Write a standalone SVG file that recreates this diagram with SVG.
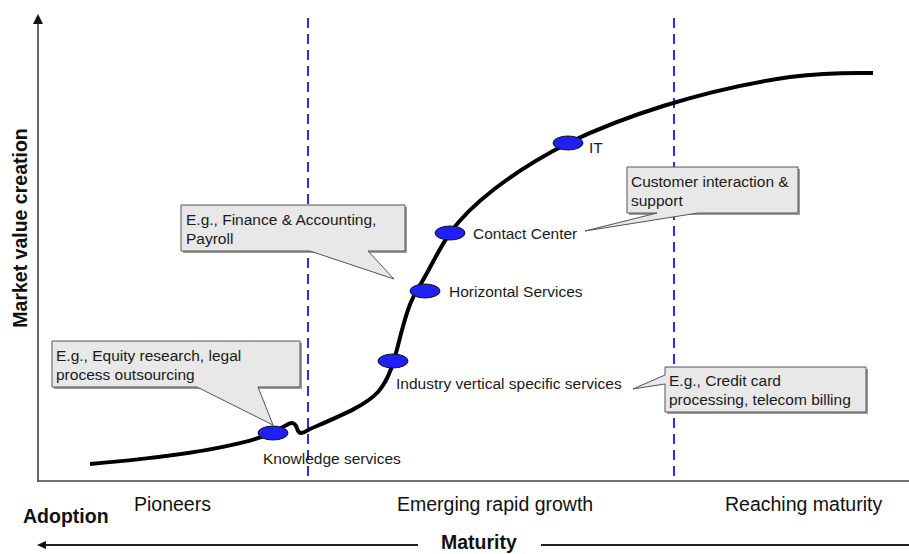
<svg xmlns="http://www.w3.org/2000/svg" width="909" height="554" viewBox="0 0 909 554">
<style>
  .lbl{font-family:"Liberation Sans",Arial,sans-serif;font-size:15.5px;fill:#1a1a1a}
  .big{font-family:"Liberation Sans",Arial,sans-serif;font-size:19.5px;fill:#111}
  .bold{font-family:"Liberation Sans",Arial,sans-serif;font-size:19.5px;font-weight:bold;fill:#111}
  .node{fill:#2020f5;stroke:#111;stroke-width:1}
  .callout{fill:#e8e8e8;stroke:#555;stroke-width:1}
  .shadow{fill:#9a9a9a}
  .phase{stroke:#2a2af0;stroke-width:2;stroke-dasharray:10 6;fill:none}
</style>
<rect width="909" height="554" fill="#fff"/>

<g id="axes">
  <line x1="38" y1="481" x2="38" y2="22" stroke="#666" stroke-width="2"/>
  <polygon points="38,14 33,24 43,24" fill="#111"/>
  <line x1="37" y1="481" x2="909" y2="481" stroke="#444" stroke-width="1.5"/>
  <text class="bold" transform="translate(27,228) rotate(-90)" text-anchor="middle">Market value creation</text>
</g>

<g id="phases">
  <line class="phase" x1="308" y1="18" x2="308" y2="481"/>
  <line class="phase" x1="674" y1="18" x2="674" y2="481"/>
  <text class="big" x="134" y="511">Pioneers</text>
  <text class="big" x="397" y="511">Emerging rapid growth</text>
  <text class="big" x="725" y="511">Reaching maturity</text>
  <text class="bold" x="23" y="523">Adoption</text>
</g>

<g id="maturity-axis">
  <line x1="44" y1="545" x2="418" y2="545" stroke="#222" stroke-width="2"/>
  <polygon points="37,545 46,541 46,549" fill="#111"/>
  <line x1="541" y1="545" x2="909" y2="545" stroke="#222" stroke-width="2"/>
  <text class="bold" x="441" y="549">Maturity</text>
</g>

<g id="connectors">
  <path id="s-curve" d="M90,464 C160,458 235,449 272,433 C282,429 287,423 292,423 C298,423 296,433 301,433 C305,433 306,431 310,429 C340,416 365,406 378,392 C392,376 396,352 402,330 C408,308 412,297 420,285 C428,273 438,250 450,233 C470,205 510,173 568,143 C620,118 700,90 790,77 C830,72 850,73 873,73" fill="none" stroke="#000" stroke-width="4" stroke-linecap="butt"/>
</g>

<g id="callout-equity">
  <path class="shadow" d="M54,343 H302 V389 H54 Z"/>
  <path class="callout" d="M52,341 H300 V387 H258 L273,425 L197,387 H52 Z"/>
  <text class="lbl" x="56" y="361">E.g., Equity research, legal</text>
  <text class="lbl" x="56" y="380">process outsourcing</text>
</g>

<g id="callout-finance">
  <path class="shadow" d="M183,207 H407 V253 H183 Z"/>
  <path class="callout" d="M181,205 H405 V251 H368 L394,279 L310,251 H181 Z"/>
  <text class="lbl" x="186" y="225">E.g., Finance &amp; Accounting,</text>
  <text class="lbl" x="186" y="244">Payroll</text>
</g>

<g id="callout-customer">
  <path class="shadow" d="M629,169 H800 V215 H629 Z"/>
  <path class="callout" d="M627,167 H798 V213 H698 L585,231 L657,213 H627 Z"/>
  <text class="lbl" x="631" y="187">Customer interaction &amp;</text>
  <text class="lbl" x="631" y="206">support</text>
</g>

<g id="callout-credit">
  <path class="shadow" d="M667,369 H868 V414 H667 Z"/>
  <path class="callout" d="M665,367 H866 V412 H665 V384 L633,389 L665,375 Z"/>
  <text class="lbl" x="669" y="386">E.g., Credit card</text>
  <text class="lbl" x="669" y="405">processing, telecom billing</text>
</g>

<g id="node-knowledge">
  <ellipse class="node" cx="273" cy="433" rx="15" ry="7"/>
  <text class="lbl" x="263" y="464">Knowledge services</text>
</g>
<g id="node-industry">
  <ellipse class="node" cx="393" cy="361" rx="15" ry="7"/>
  <text class="lbl" x="396" y="389">Industry vertical specific services</text>
</g>
<g id="node-horizontal">
  <ellipse class="node" cx="425" cy="291" rx="15" ry="7"/>
  <text class="lbl" x="449" y="297">Horizontal Services</text>
</g>
<g id="node-contact">
  <ellipse class="node" cx="450" cy="233" rx="15" ry="7"/>
  <text class="lbl" x="473" y="239">Contact Center</text>
</g>
<g id="node-it">
  <ellipse class="node" cx="568" cy="143" rx="15" ry="7"/>
  <text class="lbl" x="589" y="153">IT</text>
</g>
</svg>
